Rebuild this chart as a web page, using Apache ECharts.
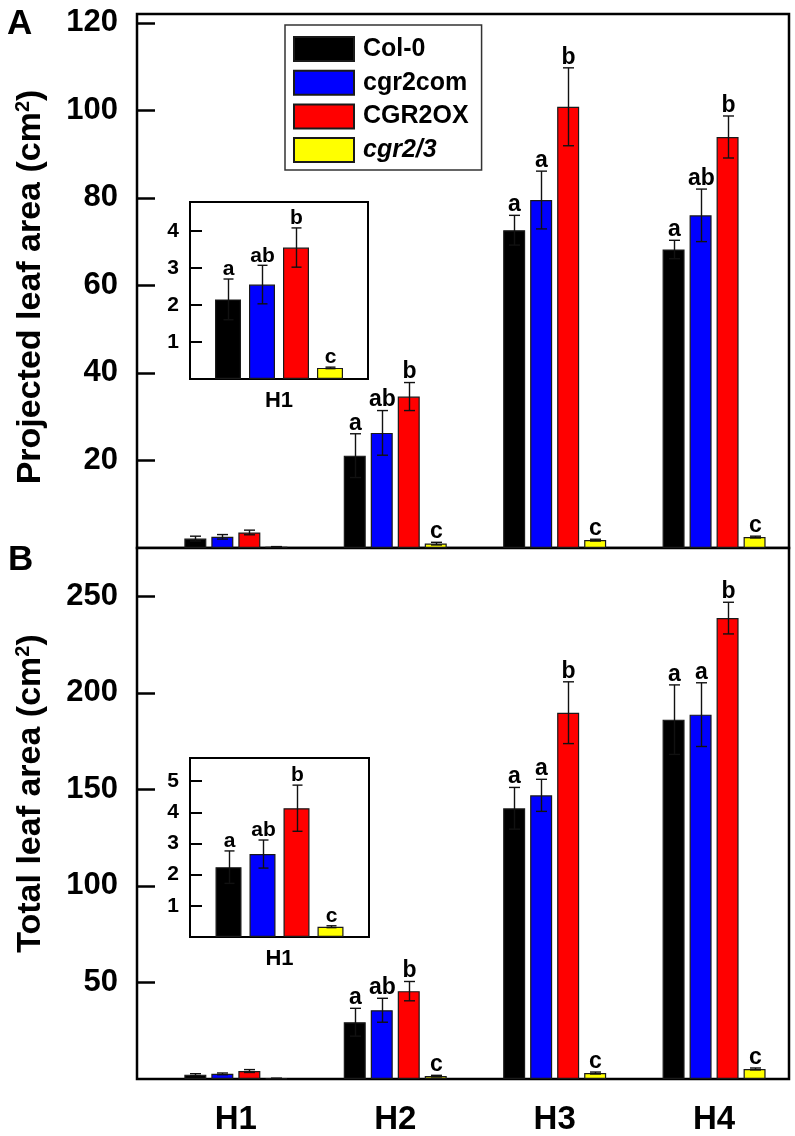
<!DOCTYPE html>
<html><head><meta charset="utf-8">
<script src="https://cdn.jsdelivr.net/npm/echarts@6/dist/echarts.min.js"></script>
<style>html,body{margin:0;padding:0;background:#fff}#c{width:795px;height:1136px}</style>
</head><body><div id="c"></div>
<script>
// ---------- DATA ----------
const categories = ['H1', 'H2', 'H3', 'H4'];
const genotypes = ['Col-0', 'cgr2com', 'CGR2OX', 'cgr2/3'];
const colors = ['#000000', '#0000FF', '#FF0000', '#FFFF00'];

// Panel A: projected leaf area (cm2), rows = genotypes, cols = H1..H4
const projValues = [
  [2.15, 21.1, 72.6, 68.2],
  [2.55, 26.3, 79.5, 76.0],
  [3.55, 34.6, 100.8, 93.9],
  [0.30, 1.0, 1.8, 2.5]
];
const projErrors = [
  [0.55, 5.0, 3.4, 2.1],
  [0.52, 5.1, 6.6, 6.0],
  [0.53, 3.2, 8.9, 4.8],
  [0.02, 0.3, 0.2, 0.2]
];
const projLetters = [
  ['a', 'a', 'a', 'a'],
  ['ab', 'ab', 'a', 'ab'],
  ['b', 'b', 'b', 'b'],
  ['c', 'c', 'c', 'c']
];

// Panel B: total leaf area (cm2)
const totalValues = [
  [2.24, 29.4, 140.2, 186.1],
  [2.66, 35.6, 146.9, 188.7],
  [4.13, 45.5, 189.7, 238.7],
  [0.33, 1.5, 3.1, 5.2]
];
const totalErrors = [
  [0.52, 7.2, 10.8, 18.0],
  [0.45, 6.2, 8.3, 16.5],
  [0.74, 5.0, 16.0, 8.2],
  [0.03, 0.4, 0.5, 0.5]
];
const totalLetters = [
  ['a', 'a', 'a', 'a'],
  ['ab', 'ab', 'a', 'a'],
  ['b', 'b', 'b', 'b'],
  ['c', 'c', 'c', 'c']
];

// tick labels
const projTicks = [20, 40, 60, 80, 100, 120];
const totalTicks = [50, 100, 150, 200, 250];
const insetProjTicks = [1, 2, 3, 4];
const insetTotalTicks = [1, 2, 3, 4, 5];
const categoryPositions = [1, 2, 3, 4];

// ---------- CHART ----------
const FONT = '"Liberation Sans", Arial, sans-serif';
const chart = echarts.init(document.getElementById('c'), null, { renderer: 'canvas' });

const MAIN_BAR = 22, MAIN_GAP = 5;
const INS_BAR = 26, INS_GAP = 8;

function gridOpt(left, top, width, height, bw) {
  return { left, top, width, height, show: true, borderColor: '#000', borderWidth: bw,
           backgroundColor: '#fff', containLabel: false };
}

function yAxisOpt(gi, max, ticks, fs, margin, tickLen, tickW, name, namePad) {
  const o = {
    gridIndex: gi, type: 'value', min: 0, max: max,
    axisLine: { show: false }, splitLine: { show: false },
    axisTick: { show: true, inside: true, length: tickLen, customValues: ticks,
                lineStyle: { color: '#000', width: tickW } },
    axisLabel: { customValues: ticks, fontSize: fs, fontWeight: 'bold', fontFamily: FONT,
                 color: '#000', margin: margin }
  };
  if (name) {
    o.name = name;
    o.nameLocation = 'middle';
    o.nameRotate = 90;
    o.nameGap = 88;
    o.nameTextStyle = {
      fontSize: 34, fontWeight: 'bold', fontFamily: FONT, color: '#000', lineHeight: 36,
      padding: namePad,
      rich: { sup: { fontSize: 20, fontWeight: 'bold', fontFamily: FONT, color: '#000', verticalAlign: 'top', lineHeight: 20 } }
    };
  }
  return o;
}

function mainXAxis(gi, showLabels) {
  return {
    gridIndex: gi, type: 'value', min: 0.38, max: 4.47,
    axisLine: { show: false }, splitLine: { show: false }, axisTick: { show: false },
    axisLabel: showLabels ? {
      show: true, customValues: categoryPositions,
      formatter: v => categories[Math.round(v) - 1] || '',
      fontSize: 33, fontWeight: 'bold', fontFamily: FONT, color: '#000', margin: 24
    } : { show: false }
  };
}

function insetXAxis(gi) {
  return {
    gridIndex: gi, type: 'category', data: [categories[0]],
    axisLine: { show: false }, splitLine: { show: false }, axisTick: { show: false },
    axisLabel: { fontSize: 22, fontWeight: 'bold', fontFamily: FONT, color: '#000', margin: 11 }
  };
}

const series = [];

function addBars(axisIdx, values, isInset) {
  genotypes.forEach((g, gi) => {
    series.push({
      type: 'bar', name: g, xAxisIndex: axisIdx, yAxisIndex: axisIdx,
      data: isInset ? [values[gi][0]] : values[gi].map((v, i) => [categoryPositions[i], v]),
      barWidth: isInset ? INS_BAR : MAIN_BAR,
      barGap: isInset ? (INS_GAP / INS_BAR * 100) + '%' : (MAIN_GAP / MAIN_BAR * 100) + '%',
      itemStyle: { color: colors[gi], borderColor: '#1a1a1a', borderWidth: 1.2 },
      emphasis: { disabled: true }, silent: true, z: 3
    });
  });
}

function addErrors(axisIdx, values, errors, letters, opts) {
  const data = [], labels = [];
  genotypes.forEach((g, gi) => {
    opts.cats.forEach(ci => {
      data.push([gi, opts.inset ? 0 : categoryPositions[ci], values[gi][ci], errors[gi][ci]]);
      labels.push(opts.showLetters(ci) ? letters[gi][ci] : '');
    });
  });
  series.push({
    type: 'custom', xAxisIndex: axisIdx, yAxisIndex: axisIdx, data, z: 5, silent: true, clip: false,
    renderItem(params, api) {
      const g = api.value(0), x = api.value(1), v = api.value(2), e = api.value(3);
      const off = (g - 1.5) * opts.pitch;
      const top = api.coord([x, v + e]);
      const bot = api.coord([x, Math.max(v - e, 0)]);
      const cx = Math.round(top[0] + off) + 0.5;
      const st = { stroke: '#111', lineWidth: 1.4 };
      const hw = opts.cap / 2;
      const children = [
        { type: 'line', shape: { x1: cx, y1: top[1], x2: cx, y2: bot[1] }, style: st },
        { type: 'line', shape: { x1: cx - hw, y1: top[1], x2: cx + hw, y2: top[1] }, style: st },
        { type: 'line', shape: { x1: cx - hw, y1: bot[1], x2: cx + hw, y2: bot[1] }, style: st }
      ];
      const t = labels[params.dataIndex];
      if (t) {
        children.push({ type: 'text', x: cx, y: top[1] + opts.textDy,
          style: { text: t, fontSize: opts.fs, fontWeight: 'bold', fontFamily: FONT, fill: '#000',
                   align: 'center', verticalAlign: 'bottom' } });
      }
      return { type: 'group', children };
    }
  });
}

// main A (axis 0), main B (axis 1), inset A (axis 2), inset B (axis 3)
addBars(0, projValues, false);
addErrors(0, projValues, projErrors, projLetters,
  { cats: [0, 1, 2, 3], inset: false, pitch: MAIN_BAR + MAIN_GAP, cap: 11, fs: 23, textDy: 1, showLetters: ci => ci > 0 });
addBars(1, totalValues, false);
addErrors(1, totalValues, totalErrors, totalLetters,
  { cats: [0, 1, 2, 3], inset: false, pitch: MAIN_BAR + MAIN_GAP, cap: 11, fs: 23, textDy: 1, showLetters: ci => ci > 0 });
addBars(2, projValues, true);
addErrors(2, projValues, projErrors, projLetters,
  { cats: [0], inset: true, pitch: INS_BAR + INS_GAP, cap: 10, fs: 21, textDy: 1, showLetters: () => true });
addBars(3, totalValues, true);
addErrors(3, totalValues, totalErrors, totalLetters,
  { cats: [0], inset: true, pitch: INS_BAR + INS_GAP, cap: 10, fs: 21, textDy: 1, showLetters: () => true });

const option = {
  backgroundColor: '#fff',
  animation: false,
  grid: [
    gridOpt(137, 14, 652, 534, 2.5),
    gridOpt(137, 548, 652, 534, 2.5),
    gridOpt(190, 202, 178, 177, 2),
    gridOpt(190, 758, 179, 179, 2)
  ],
  xAxis: [mainXAxis(0, false), mainXAxis(1, true), insetXAxis(2), insetXAxis(3)],
  yAxis: [
    yAxisOpt(0, 122, projTicks, 31, 19, 18, 2.5, 'Projected leaf area (cm{sup|2})', [0, 12, 0, 0]),
    yAxisOpt(1, 275, totalTicks, 31, 19, 18, 2.5, 'Total leaf area (cm{sup|2})', [0, 0, 0, 40]),
    yAxisOpt(2, 4.78, insetProjTicks, 21, 11, 12, 2, null),
    yAxisOpt(3, 5.74, insetTotalTicks, 21, 11, 12, 2, null)
  ],
  legend: {
    data: genotypes, orient: 'vertical', left: 285, top: 25,
    itemWidth: 60, itemHeight: 24, itemGap: 7.7, padding: [11, 13, 7, 8],
    borderColor: '#333', borderWidth: 1.5, backgroundColor: '#fff',
    selectedMode: false, icon: 'rect',
    formatter: n => n === 'cgr2/3' ? '{i|' + n + '}' : n,
    textStyle: { fontSize: 25, fontWeight: 'bold', fontFamily: FONT, color: '#000', lineHeight: 24,
                 padding: [0, 0, 0, 4],
                 rich: { i: { fontSize: 25, fontWeight: 'bold', fontStyle: 'italic', fontFamily: FONT, color: '#000', lineHeight: 24 } } }
  },
  graphic: [
    { type: 'text', left: 7, top: 7, style: { text: 'A', fontSize: 35, fontWeight: 'bold', fontFamily: FONT, fill: '#000' } },
    { type: 'text', left: 8, top: 543, style: { text: 'B', fontSize: 35, fontWeight: 'bold', fontFamily: FONT, fill: '#000' } }
  ],
  series
};
chart.setOption(option);
</script>
</body></html>
